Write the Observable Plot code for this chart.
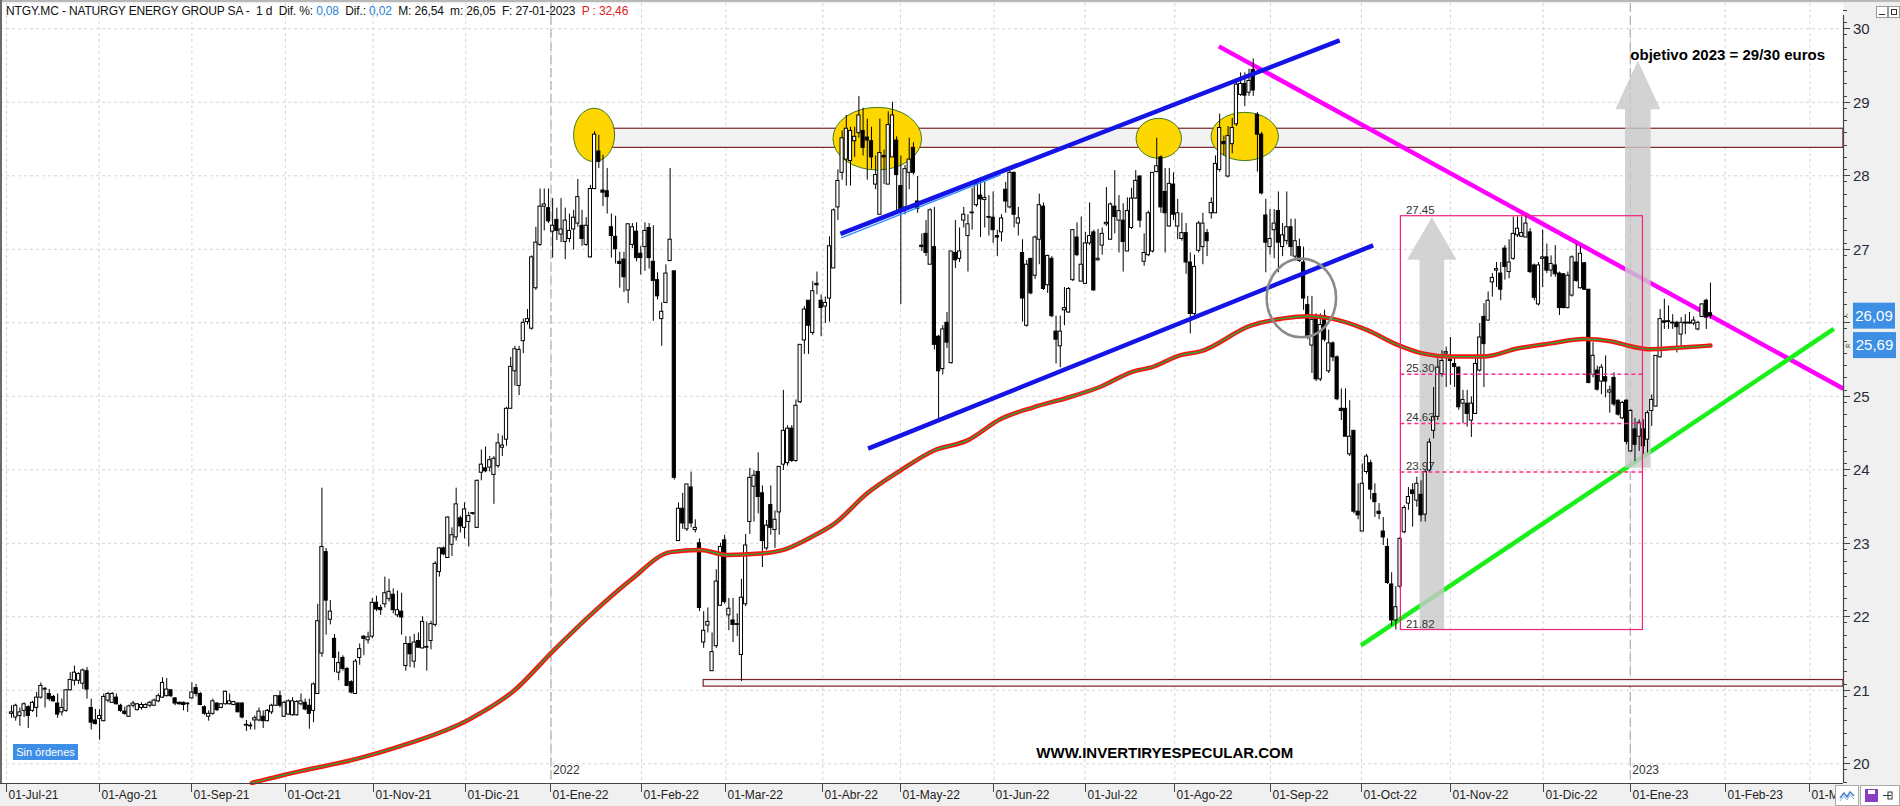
<!DOCTYPE html>
<html><head><meta charset="utf-8">
<script src="https://cdn.jsdelivr.net/npm/d3@7"></script>
<script src="https://cdn.jsdelivr.net/npm/@observablehq/plot@0.6"></script>
<style>
html,body{margin:0;padding:0;background:#f0f0f0;width:1900px;height:806px;overflow:hidden;font-family:"Liberation Sans",Arial,sans-serif;}
#wrap{position:relative;width:1900px;height:806px;}
#chart{position:absolute;left:0;top:0;}
#header{position:absolute;left:6px;top:4px;font-size:12px;color:#111;white-space:pre;letter-spacing:-0.15px;}
#header .b{color:#2a7fd4}
#header .r{color:#e02020}
#topline{position:absolute;left:0;top:0;width:1900px;height:2px;background:#b8b8b8;}
#leftline{position:absolute;left:0;top:0;width:2px;height:783px;background:#6a6a6a;}
#sin{position:absolute;left:13px;top:744px;width:65px;height:16px;background:#3d8ee6;color:#fff;font-size:11px;line-height:16px;text-align:center;}
#win{position:absolute;left:1876px;top:6px;}
#win div{position:absolute;top:0;width:10px;height:10px;background:#fff;border:1px solid #999;}
#icons{position:absolute;left:1835px;top:785px;width:65px;height:21px;background:#f0f0f0;}
#icons .bx{position:absolute;top:0;height:19px;background:#fff;border:1px solid #aaa;}
</style></head>
<body><div id="wrap"><div id="chart"></div>
<div id="topline"></div><div id="leftline"></div>
<div id="header">NTGY.MC - NATURGY ENERGY GROUP SA -  1 d  Dif. %: <span class="b">0,08</span>  Dif.: <span class="b">0,02</span>  M: 26,54  m: 26,05  F: 27-01-2023  <span class="r">P : 32,46</span></div>
<div id="sin">Sin órdenes</div>
<div id="win"><div style="left:0"><div style="position:absolute;left:2px;top:7px;width:6px;height:1px;background:#333;border:0"></div></div><div style="left:12px"><div style="position:absolute;left:2px;top:2px;width:4px;height:4px;background:#fff;border:1px solid #333"></div></div></div>
<div id="icons"><div class="bx" style="left:0;width:22px;"><svg width="22" height="19"><polyline points="4,12 8,7 11,11 14,6 18,10" fill="none" stroke="#4a7fd0" stroke-width="1.5"/><polyline points="4,15 8,10 11,14 14,9 18,13" fill="none" stroke="#8fb3e6" stroke-width="1"/></svg></div><div class="bx" style="left:25px;width:38px;"><svg width="38" height="19"><rect x="4" y="3" width="13" height="13" fill="#8a3fc0"/><rect x="7" y="4" width="7" height="4" fill="#fff"/><line x1="22" y1="9.5" x2="30" y2="9.5" stroke="#333"/><rect x="27" y="6" width="4" height="7" fill="none" stroke="#333"/></svg></div></div>
</div>
<script>
// ---------- candle data (index = trading day from 01-Jul-21) ----------
const O = [
20.68,20.63,20.65,20.72,20.77,20.72,20.76,20.90,21.02,20.95,
20.91,20.82,20.70,20.72,21.00,21.13,21.13,21.09,21.26,20.76,
20.59,20.61,20.58,20.86,20.83,20.90,20.79,20.71,20.64,20.79,
20.73,20.76,20.76,20.79,20.79,20.85,20.90,20.92,21.00,20.89,
20.83,20.83,20.82,20.89,21.03,20.95,20.77,20.64,20.68,20.82,
20.76,20.81,20.81,20.80,20.82,20.82,20.53,20.52,20.59,20.59,
20.64,20.58,20.70,20.79,20.92,20.64,20.67,20.66,20.66,20.81,
20.83,20.79,20.72,20.95,21.50,22.88,21.96,21.70,21.24,21.44,
21.29,21.11,20.95,21.44,21.73,21.68,21.73,22.19,22.12,22.17,
22.24,22.30,22.02,22.07,21.33,21.63,21.39,21.67,21.57,21.59,
21.67,21.89,22.61,22.93,22.80,22.98,23.08,23.34,23.21,23.29,
23.41,23.21,23.96,24.02,24.03,23.93,24.05,24.30,24.41,24.83,
25.34,25.14,25.75,26.01,25.92,26.47,27.06,27.58,27.56,27.24,
27.40,27.20,27.10,27.14,27.27,27.35,27.32,27.06,26.89,27.82,
28.33,27.80,27.79,27.30,27.17,26.83,26.86,26.44,27.06,27.24,
26.94,27.03,27.29,26.83,26.58,26.05,26.27,26.84,26.70,23.03,
23.47,23.19,23.76,23.18,23.00,21.65,21.88,21.26,21.60,22.15,
23.04,22.02,21.95,21.90,21.48,22.17,23.29,23.77,23.97,23.68,
22.93,23.52,23.18,23.42,24.07,24.09,24.56,24.12,24.92,25.76,
26.30,25.86,26.53,26.30,26.22,26.33,26.74,27.57,28.04,28.22,
28.20,28.47,28.58,28.61,28.52,28.47,27.88,27.47,28.27,27.88,
28.25,28.48,27.86,27.57,28.04,28.38,27.65,27.05,27.21,26.79,
27.03,25.81,25.37,26.00,25.45,26.95,26.87,27.39,27.18,27.50,
27.60,27.73,27.67,27.44,27.43,27.18,27.23,27.81,27.57,28.04,
27.35,26.95,25.96,26.87,26.64,27.13,27.58,26.51,26.87,25.88,
25.68,26.17,26.14,26.58,27.16,26.56,26.53,27.08,27.23,26.85,
27.05,27.34,27.13,27.58,27.39,27.39,26.97,27.29,27.69,27.99,
26.83,26.92,26.97,28.05,28.25,27.78,27.31,27.88,27.31,27.14,
27.22,26.82,26.12,26.98,27.03,27.22,27.49,27.49,28.08,28.46,
27.99,28.43,28.70,29.10,29.25,29.13,29.44,28.83,28.56,27.46,
27.03,27.26,27.52,27.03,27.11,27.30,26.90,27.03,26.82,26.24,
25.69,26.06,25.23,26.09,25.34,25.72,25.53,24.83,24.83,24.21,
24.53,23.43,23.16,23.97,24.09,23.67,23.43,23.16,22.95,22.44,
21.95,22.41,23.15,23.54,23.72,23.58,23.66,23.39,23.99,24.53,
24.72,25.30,25.58,25.50,25.44,25.39,24.90,24.90,24.67,24.76,
25.35,26.08,26.03,26.55,26.71,26.67,27.01,26.69,26.87,27.19,
27.17,27.16,27.23,26.78,26.25,26.87,26.89,26.71,26.78,26.67,
26.66,26.20,26.37,26.82,26.47,26.81,26.45,25.29,25.35,25.20,
25.26,25.05,25.25,24.94,24.70,24.94,24.25,24.55,24.45,24.55,
24.41,24.80,24.86,25.53,26.02,26.01,25.99,26.00,25.84,25.99,
25.99,25.99,25.91,26.08,26.30,26.13];
const H = [
20.79,20.81,20.76,20.83,20.79,20.85,20.97,21.10,21.04,21.01,
20.93,20.95,20.88,21.01,21.24,21.33,21.24,21.29,21.31,20.88,
20.74,20.74,20.95,20.97,20.97,20.95,20.81,20.77,20.80,20.85,
20.82,20.83,20.82,20.85,20.88,20.95,21.17,21.16,21.01,20.90,
20.84,20.84,20.83,21.10,21.08,20.97,20.79,20.72,20.88,20.83,
20.82,20.99,20.95,20.85,20.83,20.83,20.59,20.56,20.65,20.76,
20.72,20.74,20.81,20.93,20.99,20.85,20.87,20.90,20.86,20.95,
20.88,20.88,21.10,22.17,23.75,22.93,22.22,21.76,21.52,21.47,
21.31,21.13,21.42,21.63,21.74,21.79,22.25,22.28,22.16,22.54,
22.51,22.38,22.35,22.32,21.73,21.73,21.76,21.78,22.00,21.93,
21.94,22.75,22.94,22.95,23.36,23.21,23.75,23.37,23.55,23.42,
23.42,23.86,24.27,24.31,24.18,24.18,24.49,24.46,24.85,25.53,
25.68,25.68,26.05,26.18,26.91,27.30,27.82,27.82,27.82,27.69,
27.56,27.69,27.56,27.48,27.53,27.95,27.53,27.43,27.87,28.60,
28.55,28.28,28.10,27.48,27.45,26.96,26.96,27.35,27.35,27.36,
27.04,27.36,27.35,27.32,26.68,26.27,26.79,28.10,26.70,23.55,
23.68,23.80,23.97,23.32,23.06,22.07,22.12,21.78,22.64,23.00,
23.11,22.25,22.25,22.04,22.51,23.12,24.02,23.99,24.23,23.78,
23.31,23.78,23.44,24.04,25.08,24.60,24.60,24.95,25.70,26.22,
26.30,26.56,26.69,26.38,26.35,27.17,27.55,28.08,28.61,28.82,
28.66,28.66,29.08,28.92,28.77,28.66,28.27,28.77,28.35,28.87,
29.00,28.53,28.27,28.14,28.51,28.45,27.99,27.21,27.39,27.55,
27.57,25.83,25.96,26.14,26.97,27.39,27.29,27.57,27.47,27.83,
27.91,27.96,27.91,27.73,27.78,27.26,27.47,27.91,28.07,28.05,
27.57,27.13,26.85,26.87,27.18,27.75,27.63,26.92,26.90,26.09,
26.09,26.48,26.48,27.27,27.36,27.44,27.23,27.63,27.26,27.27,
27.29,27.84,27.63,28.07,27.73,27.62,27.70,27.83,28.07,28.00,
27.21,27.52,28.04,28.51,28.27,28.10,28.10,28.04,27.68,27.49,
27.35,26.95,26.92,27.38,27.49,27.27,27.70,28.27,28.84,28.54,
28.67,28.78,29.32,29.40,29.40,29.45,29.59,28.86,28.59,27.68,
27.54,27.54,27.78,27.35,27.78,27.41,27.41,27.14,27.03,26.36,
26.36,26.12,26.12,26.17,25.90,25.74,25.55,25.10,25.10,24.94,
24.53,23.81,24.08,24.21,24.13,23.81,23.54,23.35,23.06,22.60,
22.41,23.08,23.51,23.76,23.81,23.90,23.85,23.99,24.42,25.12,
25.51,25.62,25.67,25.80,25.55,25.40,25.08,25.08,24.99,25.51,
25.99,26.26,26.42,26.67,26.82,26.82,27.05,27.13,27.44,27.44,
27.44,27.45,27.28,26.80,26.82,27.26,27.07,26.91,27.05,26.69,
26.67,26.69,26.91,27.07,27.03,26.82,26.45,25.73,25.41,25.43,
25.55,25.14,25.32,24.95,24.93,24.95,24.82,24.70,24.68,24.68,
24.80,25.02,25.55,26.18,26.32,26.23,26.11,26.02,26.07,26.11,
26.14,26.08,26.02,26.26,26.32,26.54];
const L = [
20.62,20.58,20.51,20.63,20.48,20.70,20.63,20.88,20.76,20.85,
20.84,20.62,20.65,20.70,20.99,21.06,21.08,21.01,20.88,20.46,
20.53,20.32,20.57,20.83,20.82,20.80,20.70,20.66,20.63,20.76,
20.72,20.73,20.75,20.76,20.78,20.83,20.89,20.91,20.90,20.79,
20.80,20.72,20.70,20.88,20.91,20.79,20.66,20.58,20.66,20.71,
20.75,20.80,20.80,20.79,20.70,20.61,20.44,20.46,20.46,20.57,
20.48,20.57,20.67,20.78,20.76,20.63,20.66,20.65,20.65,20.79,
20.72,20.47,20.56,20.95,21.45,21.75,21.89,21.24,21.13,21.26,
21.05,20.95,20.95,21.34,21.47,21.63,21.70,22.07,22.02,22.12,
22.20,22.04,21.99,21.75,21.26,21.31,21.30,21.57,21.56,21.26,
21.55,21.86,22.54,22.83,22.80,22.82,23.03,23.14,23.06,22.95,
23.38,23.20,23.85,23.96,23.97,23.53,24.02,24.18,24.32,24.83,
25.14,25.01,25.58,25.97,25.90,26.44,27.04,27.25,27.35,26.88,
27.12,27.09,26.86,27.09,26.99,27.30,27.04,27.04,26.88,27.81,
28.10,27.58,27.48,26.88,26.80,26.47,26.41,26.26,27.01,26.83,
26.65,26.70,26.73,26.02,26.31,25.68,26.26,26.83,23.86,23.03,
23.19,23.16,23.21,23.14,22.07,21.57,21.78,21.26,21.57,22.14,
22.17,21.81,21.65,21.73,21.12,22.14,23.12,23.29,23.40,22.67,
22.90,23.11,22.93,23.11,23.99,24.05,24.10,24.10,24.90,25.57,
25.57,25.83,26.38,25.81,25.99,26.01,26.74,27.39,27.94,27.86,
27.86,28.25,28.51,28.27,27.94,28.09,27.81,27.47,27.88,27.88,
28.25,27.49,26.25,27.47,27.81,28.01,27.49,26.97,26.90,26.79,
25.63,24.69,25.29,25.65,25.44,26.74,26.82,27.29,26.69,27.26,
27.57,27.16,27.29,27.18,27.08,26.90,27.10,27.49,27.55,27.29,
27.18,26.01,25.94,26.38,26.59,26.79,26.44,26.40,26.07,25.44,
25.39,25.96,26.13,26.56,26.90,26.56,26.52,27.05,26.43,26.84,
26.92,27.31,27.12,27.21,26.95,26.69,26.97,27.27,27.68,27.29,
26.77,26.90,26.95,28.04,27.49,26.95,27.30,27.39,27.13,27.11,
26.66,25.85,26.06,26.95,26.79,26.90,27.41,27.49,28.05,28.27,
27.97,28.30,28.67,29.08,28.94,29.08,29.08,28.05,27.74,26.68,
26.92,26.87,26.68,26.90,27.06,26.90,26.84,26.82,26.17,25.77,
25.31,25.20,25.20,25.74,25.31,25.47,24.94,24.67,24.45,24.18,
23.40,23.32,23.16,23.94,23.59,23.35,23.32,22.97,22.44,21.87,
21.82,22.38,23.13,23.45,23.22,23.49,23.29,23.29,23.97,24.42,
24.67,25.26,25.12,25.15,25.12,24.81,24.63,24.58,24.44,24.76,
25.33,25.12,26.02,26.35,26.48,26.30,26.58,26.60,26.85,27.16,
27.16,27.16,26.67,26.30,26.23,26.48,26.67,26.62,26.62,26.10,
26.19,26.19,26.35,26.55,26.46,26.44,25.17,25.25,25.07,25.02,
24.98,24.77,24.86,24.73,24.68,24.34,24.24,24.11,24.25,24.21,
24.23,24.59,24.85,25.52,25.91,25.91,25.91,25.59,25.68,25.84,
25.98,25.96,25.89,26.07,25.91,26.05];
const C = [
20.70,20.79,20.70,20.81,20.65,20.83,20.90,21.06,21.01,20.88,
20.85,20.67,20.76,21.00,21.14,21.24,21.22,21.27,21.01,20.56,
20.54,20.65,20.91,20.95,20.95,20.81,20.72,20.68,20.78,20.82,
20.81,20.80,20.80,20.83,20.86,20.92,21.10,21.01,20.92,20.82,
20.81,20.80,20.81,20.97,20.95,20.80,20.68,20.68,20.85,20.73,
20.81,20.98,20.85,20.84,20.70,20.63,20.52,20.51,20.62,20.71,
20.58,20.72,20.79,20.92,20.79,20.83,20.85,20.85,20.84,20.85,
20.74,20.68,21.08,21.94,22.95,22.22,22.07,21.44,21.37,21.29,
21.06,20.97,21.39,21.56,21.70,21.72,22.19,22.10,22.09,22.32,
22.34,22.09,22.09,21.99,21.63,21.49,21.65,21.58,21.93,21.58,
21.90,22.72,22.93,22.85,23.35,23.11,23.53,23.23,23.46,23.37,
23.40,23.85,24.07,23.98,24.13,24.15,24.36,24.33,24.83,25.40,
25.64,25.63,26.00,26.05,26.89,27.09,27.58,27.61,27.38,27.32,
27.25,27.27,27.39,27.25,27.43,27.71,27.14,27.32,27.82,28.56,
28.19,27.77,27.71,27.18,27.00,26.80,26.62,27.34,27.30,26.88,
26.88,27.25,26.88,26.57,26.36,26.15,26.67,27.13,23.89,23.47,
23.27,23.80,23.27,23.21,22.12,21.81,21.93,21.52,22.48,22.95,
22.20,22.11,21.89,21.89,22.26,22.97,23.89,23.92,23.63,23.03,
23.24,23.21,23.32,24.04,24.53,24.56,24.12,24.87,25.70,26.18,
25.96,26.43,26.51,26.20,26.27,27.04,27.53,27.93,28.51,28.64,
28.61,28.53,28.82,28.38,28.48,28.25,28.01,28.31,28.25,28.69,
28.82,28.01,27.55,28.09,28.22,28.04,27.55,27.03,26.95,27.53,
25.70,25.34,25.91,25.73,26.97,26.85,26.97,27.47,27.34,27.49,
27.88,27.68,27.70,27.43,27.26,27.16,27.42,27.65,28.04,27.47,
27.42,26.33,26.79,26.40,27.16,27.60,26.46,26.91,26.09,25.77,
25.88,26.20,26.46,27.26,26.92,26.79,27.08,27.18,26.44,26.87,
27.21,27.36,27.61,27.44,27.52,27.10,27.52,27.69,27.93,27.39,
26.95,27.49,28.04,28.13,27.57,27.49,27.89,27.47,27.49,27.22,
26.82,26.12,26.76,27.35,27.35,27.11,27.63,28.16,28.65,28.43,
28.54,28.65,29.24,29.25,29.09,29.29,29.16,28.56,27.76,27.09,
27.14,27.35,27.09,27.19,27.30,27.03,27.11,26.84,26.33,25.82,
26.04,25.23,25.97,25.77,25.72,25.53,24.96,24.80,24.45,24.45,
23.43,23.38,23.81,24.18,23.73,23.56,23.40,23.08,22.46,21.95,
22.13,23.06,23.48,23.63,23.67,23.81,23.38,23.97,24.37,24.72,
25.39,25.48,25.60,25.48,25.40,24.85,24.95,24.76,24.90,25.44,
25.80,25.71,26.30,26.61,26.73,26.45,26.76,26.82,27.21,27.28,
27.22,27.35,26.69,26.34,26.78,26.89,26.71,26.80,26.66,26.20,
26.20,26.64,26.89,26.57,26.94,26.45,25.18,25.55,25.09,25.39,
25.20,25.08,24.89,24.75,24.91,24.38,24.80,24.34,24.64,24.32,
24.77,24.95,25.55,26.05,26.00,26.01,26.00,25.94,26.00,26.00,
26.00,26.03,26.00,26.25,26.07,26.09];

// moving average (position in trading days, value)
const maIdx = [57.3,68.9,82.5,92.7,109,119.7,129.2,138.7,147.6,157.1,164.2,170.7,178.5,184,190.5,196,204,211.9,219.8,227.9,235.8,243.6,251.7,259.6,267.5,271.5,278.7,283.4,295.4,303.2,308.9,314.4,323.2,330.4,336.6,343,350.9,359,366.9,374.7,381.2,386,390.7,397.1,405];
const maVal = [19.74,19.90,20.07,20.24,20.60,20.99,21.54,22.06,22.50,22.88,22.91,22.84,22.86,22.91,23.08,23.26,23.68,23.99,24.26,24.40,24.69,24.85,24.98,25.13,25.34,25.39,25.56,25.61,25.96,26.06,26.09,26.06,25.90,25.70,25.58,25.54,25.54,25.65,25.72,25.78,25.75,25.68,25.64,25.66,25.69];

// axes
const yTicks = [20,21,22,23,24,25,26,27,28,29,30];
const tickLabels = ["01-Jul-21","01-Ago-21","01-Sep-21","01-Oct-21","01-Nov-21","01-Dic-21","01-Ene-22","01-Feb-22","01-Mar-22","01-Abr-22","01-May-22","01-Jun-22","01-Jul-22","01-Ago-22","01-Sep-22","01-Oct-22","01-Nov-22","01-Dic-22","01-Ene-23","01-Feb-23","01-M"];
const tickPos = [-1.2,20.9,43.0,65.3,86.2,108.3,128.6,150.2,170.3,193.4,211.9,234.2,255.9,277.3,300.1,321.8,343.0,365.1,385.9,408.5,428.7];
const yearLabels = ["2022","2023"];
const yearPos = [128.6,385.9];

// annotations (trading-day index, price)
const bands = [{x1:139,x2:436.7,lo:28.38,hi:28.64,fill:"#f2f2f2"},{x1:165,x2:436.7,lo:21.05,hi:21.14,fill:"#f8f8f8"}];
const ellX = [139.0,206.5,273.6,294.1];
const ellY = [28.549,28.498,28.503,28.528];
const ellRX = [4.89,10.56,5.41,8.03];
const ellRY = [0.363,0.426,0.272,0.328];
const blueLines = [{x1:197.6,y1:27.211,x2:316.6,y2:29.841},{x1:204.2,y1:24.287,x2:324.6,y2:27.054}];
const blueThin = [{x1:197.8,y1:27.154,x2:235.8,y2:28.011}];
const magentaLine = [{x1:287.8,y1:29.761,x2:436.7,y2:25.102}];
const greenLine = [{x1:321.7,y1:21.610,x2:434.4,y2:25.918}];
const circle = {x:307.6,y:26.331,rx:8.27,ry:0.535};
const pinkBox = {x1:331.2,x2:388.9,top:27.45,bottom:21.82};
const pinkLevels = [25.30,24.63,23.97];
const pinkLabels = [27.45,25.30,24.63,23.97,21.82];
const arrowX = [338.7,387.8];
const arrowBase = [21.82,24.02];
const arrowHeadBase = [26.85,28.90];
const arrowTip = [27.43,29.56];
const arrowShaft = [2.94,3.06];
const arrowHead = [5.92,5.35];
const notes = [{x:385.9,y:29.64,text:"objetivo 2023 = 29/30 euros"},{x:244.3,y:20.147,text:"WWW.INVERTIRYESPECULAR.COM"}];

const candles = O.map((o,i)=>({i,o,h:H[i],l:L[i],c:C[i]}));
const ma = maIdx.map((x,k)=>({i:x,v:maVal[k]}));
const lastClose = C[C.length-1], lastMA = maVal[maVal.length-1];
const bodyTop = d => Math.abs(d.c-d.o) < 0.012 ? d.o + 0.012 : d.c;

const ellipses = (I, s) => {
  const g = d3.create("svg:g");
  ellX.forEach((x,k)=>{
    g.append("ellipse").attr("cx", s.x(x)).attr("cy", s.y(ellY[k]))
      .attr("rx", s.x(x+ellRX[k])-s.x(x)).attr("ry", s.y(ellY[k])-s.y(ellY[k]+ellRY[k]))
      .attr("fill","#ffd700").attr("stroke","#3f7a1f").attr("stroke-width",1);
  });
  return g.node();
};
const arrows = (I, s) => {
  const g = d3.create("svg:g");
  arrowX.forEach((ax,k)=>{
    const x = s.x(ax), xs = s.x(ax+arrowShaft[k])-x, xh = s.x(ax+arrowHead[k])-x;
    const yb = s.y(arrowBase[k]), yh = s.y(arrowHeadBase[k]), yt = s.y(arrowTip[k]);
    g.append("path").attr("d",`M${x-xs},${yb}L${x+xs},${yb}L${x+xs},${yh}L${x+xh},${yh}L${x},${yt}L${x-xh},${yh}L${x-xs},${yh}Z`)
      .attr("fill","#c9c9c9").attr("fill-opacity",0.82);
  });
  return g.node();
};
const greyCircle = (I, s) => {
  const g = d3.create("svg:g");
  g.append("ellipse").attr("cx", s.x(circle.x)).attr("cy", s.y(circle.y))
    .attr("rx", s.x(circle.x+circle.rx)-s.x(circle.x)).attr("ry", s.y(circle.y)-s.y(circle.y+circle.ry))
    .attr("fill","none").attr("stroke","#8a8a8a").attr("stroke-width",2.6);
  return g.node();
};
const axes = (I, s, v, dim) => {
  const g = d3.create("svg:g").attr("font-family","'Liberation Sans',Arial,sans-serif").attr("text-anchor","start");
  const xr = dim.width - dim.marginRight, yb = dim.height - dim.marginBottom;
  // bottom axis
  g.append("line").attr("x1",0).attr("x2",xr).attr("y1",yb+0.5).attr("y2",yb+0.5).attr("stroke","#444").attr("stroke-width",1.2);
  tickPos.forEach((p,k)=>{
    const x = Math.round(s.x(p))+0.5;
    g.append("line").attr("x1",x).attr("x2",x).attr("y1",yb).attr("y2",yb+9).attr("stroke","#444");
    g.append("text").attr("x",x+2).attr("y",yb+16).attr("text-anchor","start").attr("font-size",12).attr("fill","#222").text(tickLabels[k]);
  });
  // right axis
  g.append("line").attr("x1",xr+0.5).attr("x2",xr+0.5).attr("y1",15).attr("y2",yb).attr("stroke","#444").attr("stroke-width",1.2);
  d3.range(19.75, 30.35, 1/6).forEach(t=>{
    const y = Math.round(s.y(t))+0.5;
    g.append("line").attr("x1",xr).attr("x2",xr+4).attr("y1",y).attr("y2",y).attr("stroke","#444");
  });
  const tagVals = [lastClose, lastMA];
  yTicks.forEach(t=>{
    const y = Math.round(s.y(t))+0.5;
    g.append("line").attr("x1",xr).attr("x2",xr+7).attr("y1",y).attr("y2",y).attr("stroke","#444");
    const hidden = tagVals.some(tv => Math.abs(s.y(tv) - y) < 14);  // covered by a price tag
    if (!hidden) g.append("text").attr("x",xr+10).attr("y",y).attr("dy","0.36em").attr("text-anchor","start").attr("font-size",15).attr("fill","#2a2a35").text(t);
  });
  // price tags
  [[lastClose,"‹"],[lastMA,"«"]].forEach(([val,sym],k)=>{
    const y = s.y(val);
    g.append("text").attr("x",xr+2).attr("y",y).attr("dy","0.35em").attr("text-anchor","start").attr("font-size",10).attr("fill","#555").text(sym);
    g.append("rect").attr("x",xr+10).attr("y",y-13).attr("width",42+k).attr("height",26).attr("fill","#3d8fe6");
    g.append("text").attr("x",xr+31+k/2).attr("y",y).attr("dy","0.36em").attr("text-anchor","middle").attr("font-size",15).attr("fill","#fff").text(val.toFixed(2).replace(".",","));
  });
  return g.node();
};

const chart = Plot.plot({
  width: 1900, height: 806,
  marginTop: 3, marginBottom: 23, marginLeft: 0, marginRight: 57,
  x: {type: "linear", domain: [-2.622, 436.71], axis: null},
  y: {type: "linear", domain: [19.732, 30.344], axis: null},
  style: {background: "transparent", overflow: "visible", fontFamily: "'Liberation Sans',Arial,sans-serif"},
  marks: [
    Plot.frame({fill: "white", stroke: null}),
    Plot.ruleY(yTicks, {stroke: "#d4d4d4", strokeDasharray: "3,3"}),
    Plot.ruleX(tickPos, {stroke: "#d4d4d4", strokeDasharray: "3,3"}),
    Plot.ruleX(yearPos, {stroke: "#b4b4b4", strokeDasharray: "9,4", strokeWidth: 1.3}),
    Plot.rect(bands, {x1: "x1", x2: "x2", y1: "lo", y2: "hi", fill: d => d.fill, stroke: "#7a2323", strokeWidth: 1.2}),
    ellipses,
    Plot.link(magentaLine, {x1: "x1", y1: "y1", x2: "x2", y2: "y2", stroke: "#ff00ff", strokeWidth: 4.5}),
    Plot.link(greenLine, {x1: "x1", y1: "y1", x2: "x2", y2: "y2", stroke: "#19f019", strokeWidth: 4.5}),
    arrows,
    Plot.ruleX(candles, {x: "i", y1: "l", y2: "h", stroke: "#000", strokeWidth: 1}),
    Plot.rect(candles.filter(d => d.c >= d.o), {x1: d => d.i - 0.38, x2: d => d.i + 0.38, y1: "o", y2: bodyTop, fill: "white", stroke: "#000", strokeWidth: 1}),
    Plot.rect(candles.filter(d => d.c < d.o), {x1: d => d.i - 0.38, x2: d => d.i + 0.38, y1: "o", y2: "c", fill: "#000", stroke: "#000", strokeWidth: 1}),
    Plot.line(ma, {x: "i", y: "v", stroke: "#ff1010", strokeWidth: 4.5, curve: "monotone-x"}),
    Plot.line(ma, {x: "i", y: "v", stroke: "#2aa83a", strokeWidth: 1.4, curve: "monotone-x"}),
    Plot.rect([pinkBox], {x1: "x1", x2: "x2", y1: "bottom", y2: "top", fill: "none", stroke: "#f0207f", strokeWidth: 1.2}),
    Plot.ruleY(pinkLevels, {x1: pinkBox.x1, x2: pinkBox.x2, stroke: "#ff2a8a", strokeWidth: 1.3, strokeDasharray: "4,3"}),
    Plot.text(pinkLabels, {x: pinkBox.x1, y: d => d, text: d => d.toFixed(2), dx: 5, dy: -2, lineAnchor: "bottom", textAnchor: "start", fontSize: 11.5, fill: "#333"}),
    Plot.link(blueLines, {x1: "x1", y1: "y1", x2: "x2", y2: "y2", stroke: "#1414e6", strokeWidth: 4.5}),
    Plot.link(blueThin, {x1: "x1", y1: "y1", x2: "x2", y2: "y2", stroke: "#2b8cff", strokeWidth: 1.3}),
    greyCircle,
    Plot.text(yearLabels, {x: yearPos, frameAnchor: "bottom", dy: -10, dx: 2, textAnchor: "start", fontSize: 12, fill: "#333"}),
    Plot.text(notes, {x: "x", y: "y", text: "text", textAnchor: "start", fontSize: 15, fontWeight: "bold", fill: "#000"}),
    axes
  ]
});
document.getElementById("chart").appendChild(chart);
</script></body></html>
